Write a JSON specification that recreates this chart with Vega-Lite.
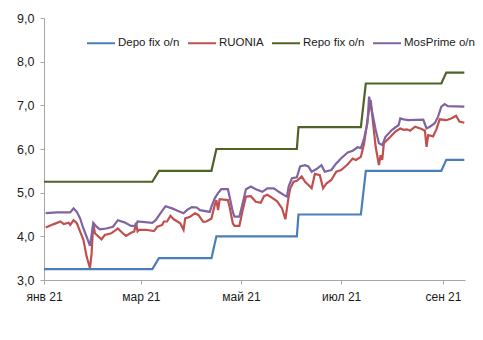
{
  "$schema": "https://vega.github.io/schema/vega-lite/v6.json",
  "autosize": {"type": "none"},
  "padding": {"left": 44, "top": 18, "right": 18, "bottom": 60},
  "width": 421,
  "height": 262,
  "background": "white",
  "config": {"view": {"stroke": null}, "font": "Liberation Sans"},
  "data": {"values": [
    {"date": "2021/01/01", "series": "Depo fix o/n", "value": 3.25},
    {"date": "2021/03/08", "series": "Depo fix o/n", "value": 3.25},
    {"date": "2021/03/12", "series": "Depo fix o/n", "value": 3.5},
    {"date": "2021/04/13", "series": "Depo fix o/n", "value": 3.5},
    {"date": "2021/04/16", "series": "Depo fix o/n", "value": 4.0},
    {"date": "2021/06/04", "series": "Depo fix o/n", "value": 4.0},
    {"date": "2021/06/05", "series": "Depo fix o/n", "value": 4.5},
    {"date": "2021/07/13", "series": "Depo fix o/n", "value": 4.5},
    {"date": "2021/07/16", "series": "Depo fix o/n", "value": 5.5},
    {"date": "2021/08/31", "series": "Depo fix o/n", "value": 5.5},
    {"date": "2021/09/03", "series": "Depo fix o/n", "value": 5.75},
    {"date": "2021/09/14", "series": "Depo fix o/n", "value": 5.75},

    {"date": "2021/01/02", "series": "RUONIA", "value": 4.20},
    {"date": "2021/01/07", "series": "RUONIA", "value": 4.28},
    {"date": "2021/01/11", "series": "RUONIA", "value": 4.34},
    {"date": "2021/01/13", "series": "RUONIA", "value": 4.28},
    {"date": "2021/01/16", "series": "RUONIA", "value": 4.31},
    {"date": "2021/01/17", "series": "RUONIA", "value": 4.26},
    {"date": "2021/01/19", "series": "RUONIA", "value": 4.37},
    {"date": "2021/01/21", "series": "RUONIA", "value": 4.30},
    {"date": "2021/01/23", "series": "RUONIA", "value": 4.11},
    {"date": "2021/01/25", "series": "RUONIA", "value": 3.92},
    {"date": "2021/01/27", "series": "RUONIA", "value": 3.53},
    {"date": "2021/01/29", "series": "RUONIA", "value": 3.27},
    {"date": "2021/01/30", "series": "RUONIA", "value": 3.61},
    {"date": "2021/01/31", "series": "RUONIA", "value": 4.30},
    {"date": "2021/02/01", "series": "RUONIA", "value": 4.07},
    {"date": "2021/02/05", "series": "RUONIA", "value": 3.93},
    {"date": "2021/02/07", "series": "RUONIA", "value": 4.03},
    {"date": "2021/02/11", "series": "RUONIA", "value": 4.07},
    {"date": "2021/02/15", "series": "RUONIA", "value": 4.18},
    {"date": "2021/02/18", "series": "RUONIA", "value": 4.07},
    {"date": "2021/02/20", "series": "RUONIA", "value": 4.01},
    {"date": "2021/02/23", "series": "RUONIA", "value": 4.08},
    {"date": "2021/02/25", "series": "RUONIA", "value": 4.11},
    {"date": "2021/02/26", "series": "RUONIA", "value": 4.31},
    {"date": "2021/02/27", "series": "RUONIA", "value": 4.11},
    {"date": "2021/02/28", "series": "RUONIA", "value": 4.15},
    {"date": "2021/03/04", "series": "RUONIA", "value": 4.15},
    {"date": "2021/03/09", "series": "RUONIA", "value": 4.12},
    {"date": "2021/03/11", "series": "RUONIA", "value": 4.22},
    {"date": "2021/03/14", "series": "RUONIA", "value": 4.26},
    {"date": "2021/03/15", "series": "RUONIA", "value": 4.34},
    {"date": "2021/03/17", "series": "RUONIA", "value": 4.34},
    {"date": "2021/03/19", "series": "RUONIA", "value": 4.47},
    {"date": "2021/03/21", "series": "RUONIA", "value": 4.39},
    {"date": "2021/03/25", "series": "RUONIA", "value": 4.30},
    {"date": "2021/03/27", "series": "RUONIA", "value": 4.15},
    {"date": "2021/03/28", "series": "RUONIA", "value": 4.41},
    {"date": "2021/03/31", "series": "RUONIA", "value": 4.45},
    {"date": "2021/04/03", "series": "RUONIA", "value": 4.53},
    {"date": "2021/04/05", "series": "RUONIA", "value": 4.49},
    {"date": "2021/04/08", "series": "RUONIA", "value": 4.33},
    {"date": "2021/04/10", "series": "RUONIA", "value": 4.34},
    {"date": "2021/04/13", "series": "RUONIA", "value": 4.41},
    {"date": "2021/04/15", "series": "RUONIA", "value": 4.72},
    {"date": "2021/04/16", "series": "RUONIA", "value": 4.83},
    {"date": "2021/04/17", "series": "RUONIA", "value": 4.60},
    {"date": "2021/04/18", "series": "RUONIA", "value": 4.85},
    {"date": "2021/04/23", "series": "RUONIA", "value": 4.83},
    {"date": "2021/04/24", "series": "RUONIA", "value": 4.68},
    {"date": "2021/04/26", "series": "RUONIA", "value": 4.30},
    {"date": "2021/04/27", "series": "RUONIA", "value": 4.24},
    {"date": "2021/04/30", "series": "RUONIA", "value": 4.24},
    {"date": "2021/05/02", "series": "RUONIA", "value": 4.60},
    {"date": "2021/05/04", "series": "RUONIA", "value": 4.91},
    {"date": "2021/05/07", "series": "RUONIA", "value": 4.92},
    {"date": "2021/05/10", "series": "RUONIA", "value": 4.79},
    {"date": "2021/05/13", "series": "RUONIA", "value": 4.77},
    {"date": "2021/05/15", "series": "RUONIA", "value": 4.92},
    {"date": "2021/05/17", "series": "RUONIA", "value": 4.95},
    {"date": "2021/05/20", "series": "RUONIA", "value": 4.88},
    {"date": "2021/05/23", "series": "RUONIA", "value": 4.80},
    {"date": "2021/05/26", "series": "RUONIA", "value": 4.64},
    {"date": "2021/05/28", "series": "RUONIA", "value": 4.39},
    {"date": "2021/05/30", "series": "RUONIA", "value": 4.91},
    {"date": "2021/05/31", "series": "RUONIA", "value": 5.10},
    {"date": "2021/06/02", "series": "RUONIA", "value": 5.25},
    {"date": "2021/06/04", "series": "RUONIA", "value": 5.27},
    {"date": "2021/06/07", "series": "RUONIA", "value": 5.37},
    {"date": "2021/06/09", "series": "RUONIA", "value": 5.25},
    {"date": "2021/06/12", "series": "RUONIA", "value": 5.14},
    {"date": "2021/06/13", "series": "RUONIA", "value": 5.10},
    {"date": "2021/06/15", "series": "RUONIA", "value": 5.43},
    {"date": "2021/06/18", "series": "RUONIA", "value": 5.40},
    {"date": "2021/06/20", "series": "RUONIA", "value": 5.10},
    {"date": "2021/06/22", "series": "RUONIA", "value": 5.21},
    {"date": "2021/06/25", "series": "RUONIA", "value": 5.29},
    {"date": "2021/06/28", "series": "RUONIA", "value": 5.48},
    {"date": "2021/07/01", "series": "RUONIA", "value": 5.52},
    {"date": "2021/07/05", "series": "RUONIA", "value": 5.65},
    {"date": "2021/07/08", "series": "RUONIA", "value": 5.78},
    {"date": "2021/07/10", "series": "RUONIA", "value": 5.75},
    {"date": "2021/07/13", "series": "RUONIA", "value": 5.82},
    {"date": "2021/07/15", "series": "RUONIA", "value": 6.13},
    {"date": "2021/07/17", "series": "RUONIA", "value": 6.66},
    {"date": "2021/07/19", "series": "RUONIA", "value": 7.12},
    {"date": "2021/07/20", "series": "RUONIA", "value": 6.74},
    {"date": "2021/07/22", "series": "RUONIA", "value": 6.05},
    {"date": "2021/07/24", "series": "RUONIA", "value": 5.63},
    {"date": "2021/07/25", "series": "RUONIA", "value": 5.86},
    {"date": "2021/07/26", "series": "RUONIA", "value": 5.75},
    {"date": "2021/07/27", "series": "RUONIA", "value": 6.13},
    {"date": "2021/07/31", "series": "RUONIA", "value": 6.28},
    {"date": "2021/08/03", "series": "RUONIA", "value": 6.40},
    {"date": "2021/08/06", "series": "RUONIA", "value": 6.47},
    {"date": "2021/08/08", "series": "RUONIA", "value": 6.44},
    {"date": "2021/08/10", "series": "RUONIA", "value": 6.45},
    {"date": "2021/08/12", "series": "RUONIA", "value": 6.42},
    {"date": "2021/08/15", "series": "RUONIA", "value": 6.51},
    {"date": "2021/08/19", "series": "RUONIA", "value": 6.46},
    {"date": "2021/08/21", "series": "RUONIA", "value": 6.42},
    {"date": "2021/08/22", "series": "RUONIA", "value": 6.05},
    {"date": "2021/08/23", "series": "RUONIA", "value": 6.32},
    {"date": "2021/08/26", "series": "RUONIA", "value": 6.29},
    {"date": "2021/08/28", "series": "RUONIA", "value": 6.45},
    {"date": "2021/08/30", "series": "RUONIA", "value": 6.68},
    {"date": "2021/09/03", "series": "RUONIA", "value": 6.66},
    {"date": "2021/09/06", "series": "RUONIA", "value": 6.70},
    {"date": "2021/09/09", "series": "RUONIA", "value": 6.76},
    {"date": "2021/09/11", "series": "RUONIA", "value": 6.63},
    {"date": "2021/09/14", "series": "RUONIA", "value": 6.60},

    {"date": "2021/01/01", "series": "Repo fix o/n", "value": 5.25},
    {"date": "2021/03/08", "series": "Repo fix o/n", "value": 5.25},
    {"date": "2021/03/12", "series": "Repo fix o/n", "value": 5.5},
    {"date": "2021/04/13", "series": "Repo fix o/n", "value": 5.5},
    {"date": "2021/04/16", "series": "Repo fix o/n", "value": 6.0},
    {"date": "2021/06/04", "series": "Repo fix o/n", "value": 6.0},
    {"date": "2021/06/05", "series": "Repo fix o/n", "value": 6.5},
    {"date": "2021/07/13", "series": "Repo fix o/n", "value": 6.5},
    {"date": "2021/07/16", "series": "Repo fix o/n", "value": 7.5},
    {"date": "2021/08/31", "series": "Repo fix o/n", "value": 7.5},
    {"date": "2021/09/03", "series": "Repo fix o/n", "value": 7.75},
    {"date": "2021/09/14", "series": "Repo fix o/n", "value": 7.75},

    {"date": "2021/01/02", "series": "MosPrime o/n", "value": 4.53},
    {"date": "2021/01/09", "series": "MosPrime o/n", "value": 4.55},
    {"date": "2021/01/17", "series": "MosPrime o/n", "value": 4.55},
    {"date": "2021/01/19", "series": "MosPrime o/n", "value": 4.64},
    {"date": "2021/01/21", "series": "MosPrime o/n", "value": 4.56},
    {"date": "2021/01/23", "series": "MosPrime o/n", "value": 4.41},
    {"date": "2021/01/25", "series": "MosPrime o/n", "value": 4.18},
    {"date": "2021/01/27", "series": "MosPrime o/n", "value": 3.99},
    {"date": "2021/01/29", "series": "MosPrime o/n", "value": 3.78},
    {"date": "2021/01/30", "series": "MosPrime o/n", "value": 4.03},
    {"date": "2021/01/31", "series": "MosPrime o/n", "value": 4.31},
    {"date": "2021/02/02", "series": "MosPrime o/n", "value": 4.22},
    {"date": "2021/02/04", "series": "MosPrime o/n", "value": 4.16},
    {"date": "2021/02/08", "series": "MosPrime o/n", "value": 4.18},
    {"date": "2021/02/12", "series": "MosPrime o/n", "value": 4.22},
    {"date": "2021/02/15", "series": "MosPrime o/n", "value": 4.37},
    {"date": "2021/02/19", "series": "MosPrime o/n", "value": 4.32},
    {"date": "2021/02/23", "series": "MosPrime o/n", "value": 4.24},
    {"date": "2021/02/26", "series": "MosPrime o/n", "value": 4.24},
    {"date": "2021/02/27", "series": "MosPrime o/n", "value": 4.34},
    {"date": "2021/03/08", "series": "MosPrime o/n", "value": 4.31},
    {"date": "2021/03/10", "series": "MosPrime o/n", "value": 4.37},
    {"date": "2021/03/13", "series": "MosPrime o/n", "value": 4.53},
    {"date": "2021/03/16", "series": "MosPrime o/n", "value": 4.69},
    {"date": "2021/03/20", "series": "MosPrime o/n", "value": 4.64},
    {"date": "2021/03/23", "series": "MosPrime o/n", "value": 4.59},
    {"date": "2021/03/27", "series": "MosPrime o/n", "value": 4.53},
    {"date": "2021/03/29", "series": "MosPrime o/n", "value": 4.60},
    {"date": "2021/04/01", "series": "MosPrime o/n", "value": 4.67},
    {"date": "2021/04/04", "series": "MosPrime o/n", "value": 4.66},
    {"date": "2021/04/06", "series": "MosPrime o/n", "value": 4.60},
    {"date": "2021/04/12", "series": "MosPrime o/n", "value": 4.56},
    {"date": "2021/04/13", "series": "MosPrime o/n", "value": 4.68},
    {"date": "2021/04/15", "series": "MosPrime o/n", "value": 4.87},
    {"date": "2021/04/17", "series": "MosPrime o/n", "value": 4.99},
    {"date": "2021/04/19", "series": "MosPrime o/n", "value": 5.08},
    {"date": "2021/04/23", "series": "MosPrime o/n", "value": 5.08},
    {"date": "2021/04/24", "series": "MosPrime o/n", "value": 4.91},
    {"date": "2021/04/26", "series": "MosPrime o/n", "value": 4.56},
    {"date": "2021/04/27", "series": "MosPrime o/n", "value": 4.45},
    {"date": "2021/04/30", "series": "MosPrime o/n", "value": 4.45},
    {"date": "2021/05/02", "series": "MosPrime o/n", "value": 4.76},
    {"date": "2021/05/04", "series": "MosPrime o/n", "value": 5.08},
    {"date": "2021/05/07", "series": "MosPrime o/n", "value": 5.14},
    {"date": "2021/05/10", "series": "MosPrime o/n", "value": 5.08},
    {"date": "2021/05/14", "series": "MosPrime o/n", "value": 5.02},
    {"date": "2021/05/17", "series": "MosPrime o/n", "value": 5.10},
    {"date": "2021/05/21", "series": "MosPrime o/n", "value": 5.10},
    {"date": "2021/05/24", "series": "MosPrime o/n", "value": 5.02},
    {"date": "2021/05/27", "series": "MosPrime o/n", "value": 4.95},
    {"date": "2021/05/29", "series": "MosPrime o/n", "value": 4.91},
    {"date": "2021/05/30", "series": "MosPrime o/n", "value": 5.14},
    {"date": "2021/06/01", "series": "MosPrime o/n", "value": 5.33},
    {"date": "2021/06/04", "series": "MosPrime o/n", "value": 5.35},
    {"date": "2021/06/06", "series": "MosPrime o/n", "value": 5.60},
    {"date": "2021/06/09", "series": "MosPrime o/n", "value": 5.63},
    {"date": "2021/06/11", "series": "MosPrime o/n", "value": 5.60},
    {"date": "2021/06/13", "series": "MosPrime o/n", "value": 5.48},
    {"date": "2021/06/16", "series": "MosPrime o/n", "value": 5.54},
    {"date": "2021/06/19", "series": "MosPrime o/n", "value": 5.63},
    {"date": "2021/06/21", "series": "MosPrime o/n", "value": 5.48},
    {"date": "2021/06/25", "series": "MosPrime o/n", "value": 5.52},
    {"date": "2021/06/28", "series": "MosPrime o/n", "value": 5.67},
    {"date": "2021/07/01", "series": "MosPrime o/n", "value": 5.79},
    {"date": "2021/07/05", "series": "MosPrime o/n", "value": 5.92},
    {"date": "2021/07/08", "series": "MosPrime o/n", "value": 5.96},
    {"date": "2021/07/11", "series": "MosPrime o/n", "value": 6.04},
    {"date": "2021/07/13", "series": "MosPrime o/n", "value": 6.02},
    {"date": "2021/07/15", "series": "MosPrime o/n", "value": 6.25},
    {"date": "2021/07/17", "series": "MosPrime o/n", "value": 6.59},
    {"date": "2021/07/18", "series": "MosPrime o/n", "value": 7.20},
    {"date": "2021/07/20", "series": "MosPrime o/n", "value": 6.82},
    {"date": "2021/07/22", "series": "MosPrime o/n", "value": 6.44},
    {"date": "2021/07/24", "series": "MosPrime o/n", "value": 6.13},
    {"date": "2021/07/26", "series": "MosPrime o/n", "value": 6.09},
    {"date": "2021/07/28", "series": "MosPrime o/n", "value": 6.28},
    {"date": "2021/08/01", "series": "MosPrime o/n", "value": 6.44},
    {"date": "2021/08/05", "series": "MosPrime o/n", "value": 6.55},
    {"date": "2021/08/06", "series": "MosPrime o/n", "value": 6.70},
    {"date": "2021/08/08", "series": "MosPrime o/n", "value": 6.68},
    {"date": "2021/08/11", "series": "MosPrime o/n", "value": 6.66},
    {"date": "2021/08/20", "series": "MosPrime o/n", "value": 6.67},
    {"date": "2021/08/22", "series": "MosPrime o/n", "value": 6.47},
    {"date": "2021/08/24", "series": "MosPrime o/n", "value": 6.51},
    {"date": "2021/08/27", "series": "MosPrime o/n", "value": 6.59},
    {"date": "2021/08/29", "series": "MosPrime o/n", "value": 6.74},
    {"date": "2021/08/31", "series": "MosPrime o/n", "value": 6.97},
    {"date": "2021/09/02", "series": "MosPrime o/n", "value": 7.03},
    {"date": "2021/09/04", "series": "MosPrime o/n", "value": 6.98},
    {"date": "2021/09/14", "series": "MosPrime o/n", "value": 6.97}
  ]},
  "mark": {"type": "line", "strokeWidth": 2.2},
  "encoding": {
    "x": {
      "field": "date", "type": "temporal",
      "scale": {"domain": [{"year": 2021, "month": 1, "date": 1}, {"year": 2021, "month": 9, "date": 14, "hours": 10}]},
      "axis": {
        "title": null, "grid": false,
        "values": [{"year": 2021, "month": 1, "date": 1}, {"year": 2021, "month": 3, "date": 1}, {"year": 2021, "month": 5, "date": 1}, {"year": 2021, "month": 7, "date": 1}, {"year": 2021, "month": 9, "date": 1}],
        "labelExpr": "['янв','фев','мар','апр','май','июн','июл','авг','сен','окт','ноя','дек'][month(datum.value)] + ' 21'",
        "domainColor": "#a6a6a6", "tickColor": "#a6a6a6", "tickSize": 4,
        "labelFontSize": 12, "labelColor": "#1a1a1a", "labelPadding": 7, "labelFlush": false
      }
    },
    "y": {
      "field": "value", "type": "quantitative",
      "scale": {"domain": [3, 9], "nice": false, "zero": false},
      "axis": {
        "title": null, "grid": false, "values": [3, 4, 5, 6, 7, 8, 9],
        "labelExpr": "replace(format(datum.value, '.1f'), '.', ',')",
        "domainColor": "#a6a6a6", "tickColor": "#a6a6a6", "tickSize": 4,
        "labelFontSize": 12.5, "labelColor": "#1a1a1a", "labelPadding": 6
      }
    },
    "color": {
      "field": "series", "type": "nominal",
      "scale": {"domain": ["Depo fix o/n", "RUONIA", "Repo fix o/n", "MosPrime o/n"], "range": ["#4a7ebb", "#c0504d", "#4f6228", "#8064a2"]},
      "legend": {
        "title": null, "orient": "none", "legendX": 42, "legendY": 10,
        "direction": "horizontal", "columns": 4,
        "symbolType": "stroke", "symbolSize": 784, "symbolStrokeWidth": 2,
        "labelFontSize": 11.5, "labelColor": "#1a1a1a", "labelOffset": 2, "columnPadding": 4
      }
    }
  }
}
